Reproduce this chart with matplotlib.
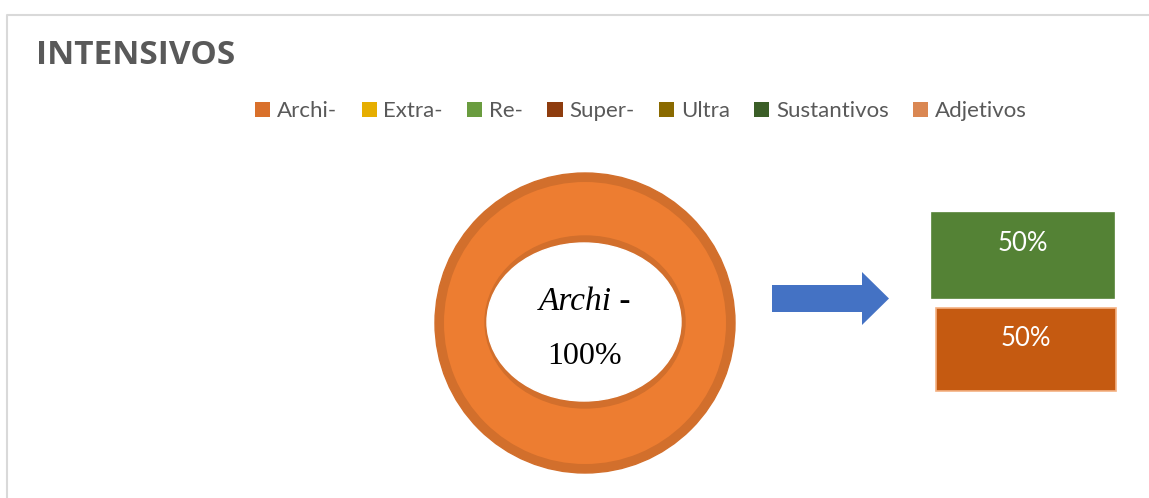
import matplotlib
matplotlib.use("Agg")
from matplotlib import pyplot as plt
from matplotlib.patches import Ellipse, Circle, Rectangle, FancyArrow, Patch

title = "INTENSIVOS"
categories = ["Archi-", "Extra-", "Re-", "Super-", "Ultra", "Sustantivos", "Adjetivos"]
colors = ["#D9702B", "#E6AE00", "#6A9C3F", "#8E3C0E", "#8A6A00", "#3B5E27", "#DA8752"]
donut_values = [100, 0, 0, 0, 0, 0, 0]
center_label = ["Archi -", "100%"]
split_labels = ["Sustantivos", "Adjetivos"]
split_values = [50, 50]
split_colors = ["#548235", "#C55A11"]

W, H = 1149, 498
fig = plt.figure(figsize=(W / 100, H / 100), dpi=100)
ax = fig.add_axes([0, 0, 1, 1])

# donut (only Archi- has a share)
cx, cy, r = 585, 323, 150
ax.add_patch(Circle((cx, cy), r, color="#D26F2C", zorder=1))
ax.pie(donut_values, colors=["#ED7D31"] + colors[1:], radius=r - 9, center=(cx, cy),
       startangle=90, counterclock=False, frame=True,
       wedgeprops=dict(linewidth=0, zorder=2))
# hole with bevel shadow
ax.add_patch(Ellipse((cx, cy - 1), 200, 172, color="#D26F2C", zorder=3))
ax.add_patch(Ellipse((cx - 1, cy - 1), 194, 158, color="white", zorder=4))
ax.text(cx, 302, center_label[0], ha="center", va="center", fontsize=24,
        family="Liberation Serif", style="italic", zorder=5)
ax.text(cx, 356, center_label[1], ha="center", va="center", fontsize=23,
        family="Liberation Serif", zorder=5)

# arrow
ax.add_patch(FancyArrow(772, 298.5, 90, 0, width=27, head_width=53, head_length=27,
                        length_includes_head=False, color="#4472C4", linewidth=0, zorder=3))

# split boxes
boxes = [(932, 213, 182, 85), (936, 308, 180, 83)]
edges = ["#548235", "#F4B183"]
for (x, y, w, h), v, c, e in zip(boxes, split_values, split_colors, edges):
    ax.add_patch(Rectangle((x, y), w, h, facecolor=c, edgecolor=e, linewidth=1.2, zorder=3))
    ax.text(x + w / 2, y + 30, f"{v}%", ha="center", va="center", color="white",
            fontsize=18.5, family="Lato", zorder=4)

# chart border
ax.plot([6.5, 6.5, W], [H, 14.5, 14.5], color="#D9D9D9", linewidth=1.5, zorder=0)

ax.text(36, 55, title, ha="left", va="center", fontsize=24, fontweight="bold",
        color="#595959", family="Open Sans")

handles = [Patch(facecolor=c, edgecolor="none") for c in colors]
leg = fig.legend(handles, categories, ncol=7, loc="center", bbox_to_anchor=(641 / W, 1 - 111 / H),
                 frameon=False, handlelength=0.68, handleheight=0.68, handletextpad=0.3,
                 columnspacing=1.1, prop=dict(family="Lato", size=16))
for t in leg.get_texts():
    t.set_color("#595959")

ax.set_xlim(0, W)
ax.set_ylim(H, 0)
ax.set_aspect("equal")
ax.axis("off")
fig.savefig("out.png", dpi=100)
